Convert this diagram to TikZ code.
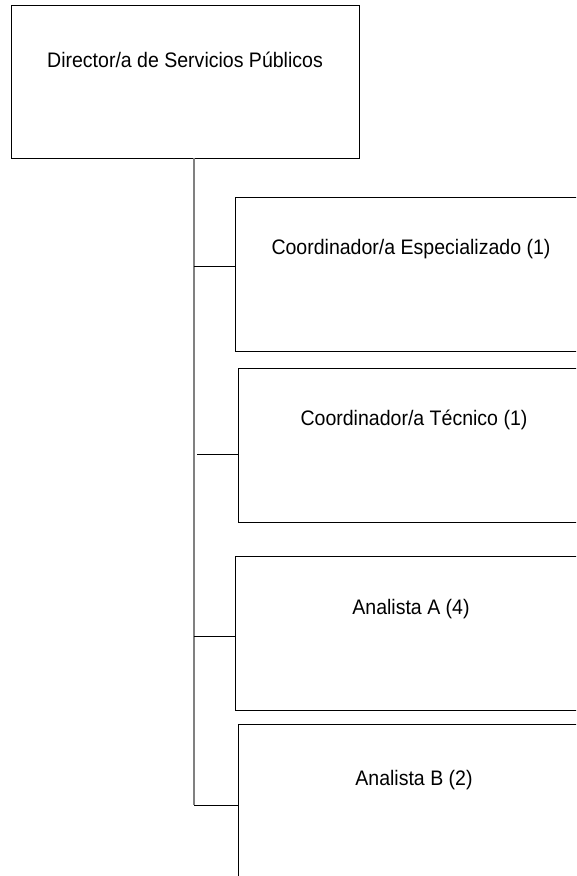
\documentclass[tikz,border=0pt]{standalone}
\usepackage{fontspec}
\setmainfont{Liberation Sans}[FakeStretch=0.93]
\usetikzlibrary{positioning}

\begin{document}
\begin{tikzpicture}[x=1pt, y=-1pt,
    post box/.style={
        draw=black,
        line width=0.8pt,
        minimum width=352pt,
        minimum height=154pt,
        inner sep=0pt
    },
    post text/.style={
        font=\fontsize{21}{25}\selectfont,
        inner sep=0pt
    },
    trunk/.style={draw=black!50, line width=1.1pt},
    tie/.style={draw=black, line width=0.8pt}
]
    \useasboundingbox (0,0) rectangle (576,876);
    \clip (0,0) rectangle (576,876);

    % cabeza
    \node[post box, minimum width=348pt, minimum height=153pt] (dir) at (185,81.5) {};
    \node[post text] (dirtxt) at ([yshift=-55pt]dir.north) {Director/a de Servicios Públicos};

    % dependientes
    \node[post box] (coe) at (411,274.5) {};
    \node[post text] (coetxt) at ([yshift=-52pt]coe.north) {Coordinador/a Especializado (1)};

    \node[post box] (cot) at (414,445) {};
    \node[post text] (cottxt) at ([yshift=-52pt]cot.north) {Coordinador/a Técnico (1)};

    \node[post box] (ana) at (411,633) {};
    \node[post text] (anatxt) at ([yshift=-53pt]ana.north) {Analista A (4)};

    \node[post box] (anb) at (414,801) {};
    \node[post text] (anbtxt) at ([yshift=-56pt]anb.north) {Analista B (2)};

    % linea vertical y ramas
    \coordinate (top) at (dir.south -| 194,0);
    \coordinate (r1) at (194,266);
    \coordinate (r2) at (197,454);
    \coordinate (r3) at (194,636);
    \coordinate (r4) at (194,805);

    \draw[trunk] (top) -- (r4);
    \draw[tie] (r1) -- (r1 -| coe.west);
    \draw[tie] (r2) -- (r2 -| cot.west);
    \draw[tie] (r3) -- (r3 -| ana.west);
    \draw[tie] (r4) -- (r4 -| anb.west);
\end{tikzpicture}
\end{document}
